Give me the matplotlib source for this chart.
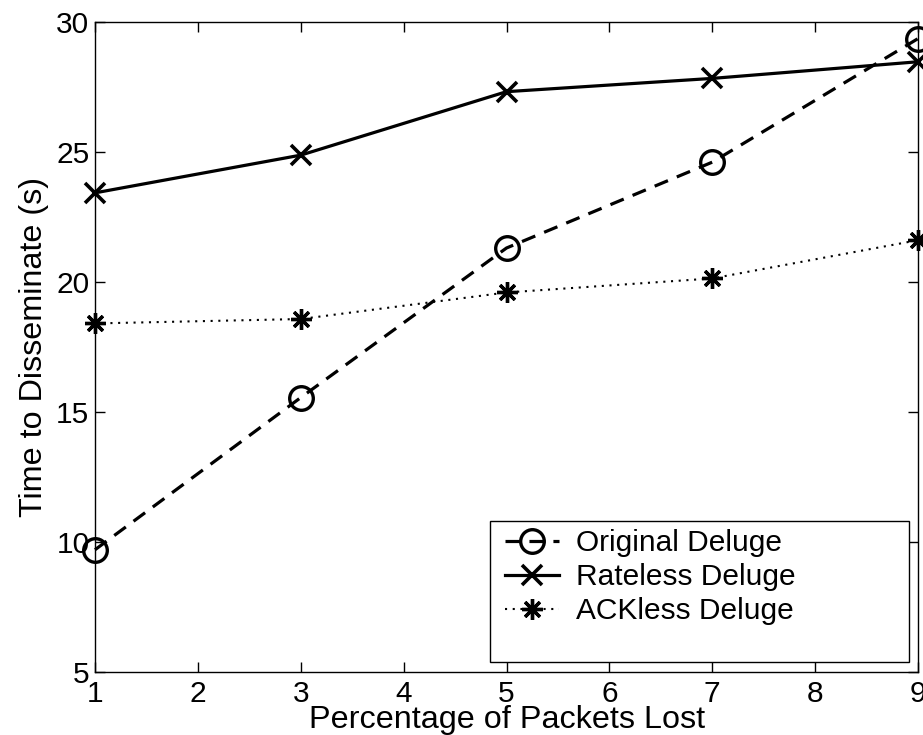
import matplotlib
matplotlib.use("Agg")
import matplotlib.pyplot as plt
from matplotlib.patches import Rectangle

plt.rcParams['font.family'] = ['Liberation Sans', 'DejaVu Sans']

x = [1, 3, 5, 7, 9]
original = [9.7, 15.55, 21.3, 24.6, 29.35]
rateless = [23.42, 24.87, 27.31, 27.82, 28.46]
ackless = [18.4, 18.57, 19.59, 20.13, 21.6]
labels = ["Original Deluge", "Rateless Deluge", "ACKless Deluge"]

FS = 21.5
LFS = 23.3
W, H = 923, 735

fig = plt.figure(figsize=(W/100, H/100), dpi=100)
ax = fig.add_axes([95/W, 1-672/H, (918-95)/W, (672-21.7)/H])

ax.plot(x, original, color='black', lw=2.3, dashes=(4.5, 3), marker='o',
        markersize=17, markerfacecolor='none', markeredgewidth=2.4,
        label=labels[0], clip_on=False, zorder=3)
ax.plot(x, rateless, color='black', lw=2.3, linestyle='-', marker='x',
        markersize=14, markeredgewidth=2.6, label=labels[1], clip_on=False, zorder=3)
ax.plot(x, ackless, color='black', lw=1.5, dashes=(1, 2.7), marker=(8, 2, 0),
        markersize=15, markeredgewidth=2.4, label=labels[2], clip_on=False, zorder=3)

ax.set_xlim(1, 9)
ax.set_ylim(5, 30)
ax.set_xticks([1, 2, 3, 4, 5, 6, 7, 8, 9])
ax.set_yticks([5, 10, 15, 20, 25, 30])
ax.tick_params(direction='in', top=True, right=True, length=7, width=1,
               labelsize=FS)
ax.tick_params(axis='x', pad=6)
ax.tick_params(axis='y', pad=4)
for s in ax.spines.values():
    s.set_linewidth(1)

fig.text(507/W, 7/H, "Percentage of Packets Lost", fontsize=LFS,
         ha='center', va='baseline')
fig.text(42/W, 1-347/H, "Time to Disseminate (s)", fontsize=LFS,
         rotation=90, rotation_mode='anchor', ha='center', va='baseline')

# legend frame (MATLAB style, taller than contents)
x0 = (490-95)/823
x1 = (909-95)/823
y0 = (672-661.7)/650.3
y1 = (672-520.7)/650.3
rect = Rectangle((x0, y0), x1-x0, y1-y0, transform=ax.transAxes,
                 facecolor='white', edgecolor='black', lw=1, zorder=4)
ax.add_patch(rect)
leg = ax.legend(loc='upper left', bbox_to_anchor=(x0 + 8/823, y1 - 1/650.3),
                frameon=False, fontsize=FS, numpoints=1, handlelength=1.8,
                handletextpad=0.55, labelspacing=0.2, borderpad=0.25,
                borderaxespad=0.0)
leg.set_zorder(5)

fig.savefig("out.png", dpi=100)
